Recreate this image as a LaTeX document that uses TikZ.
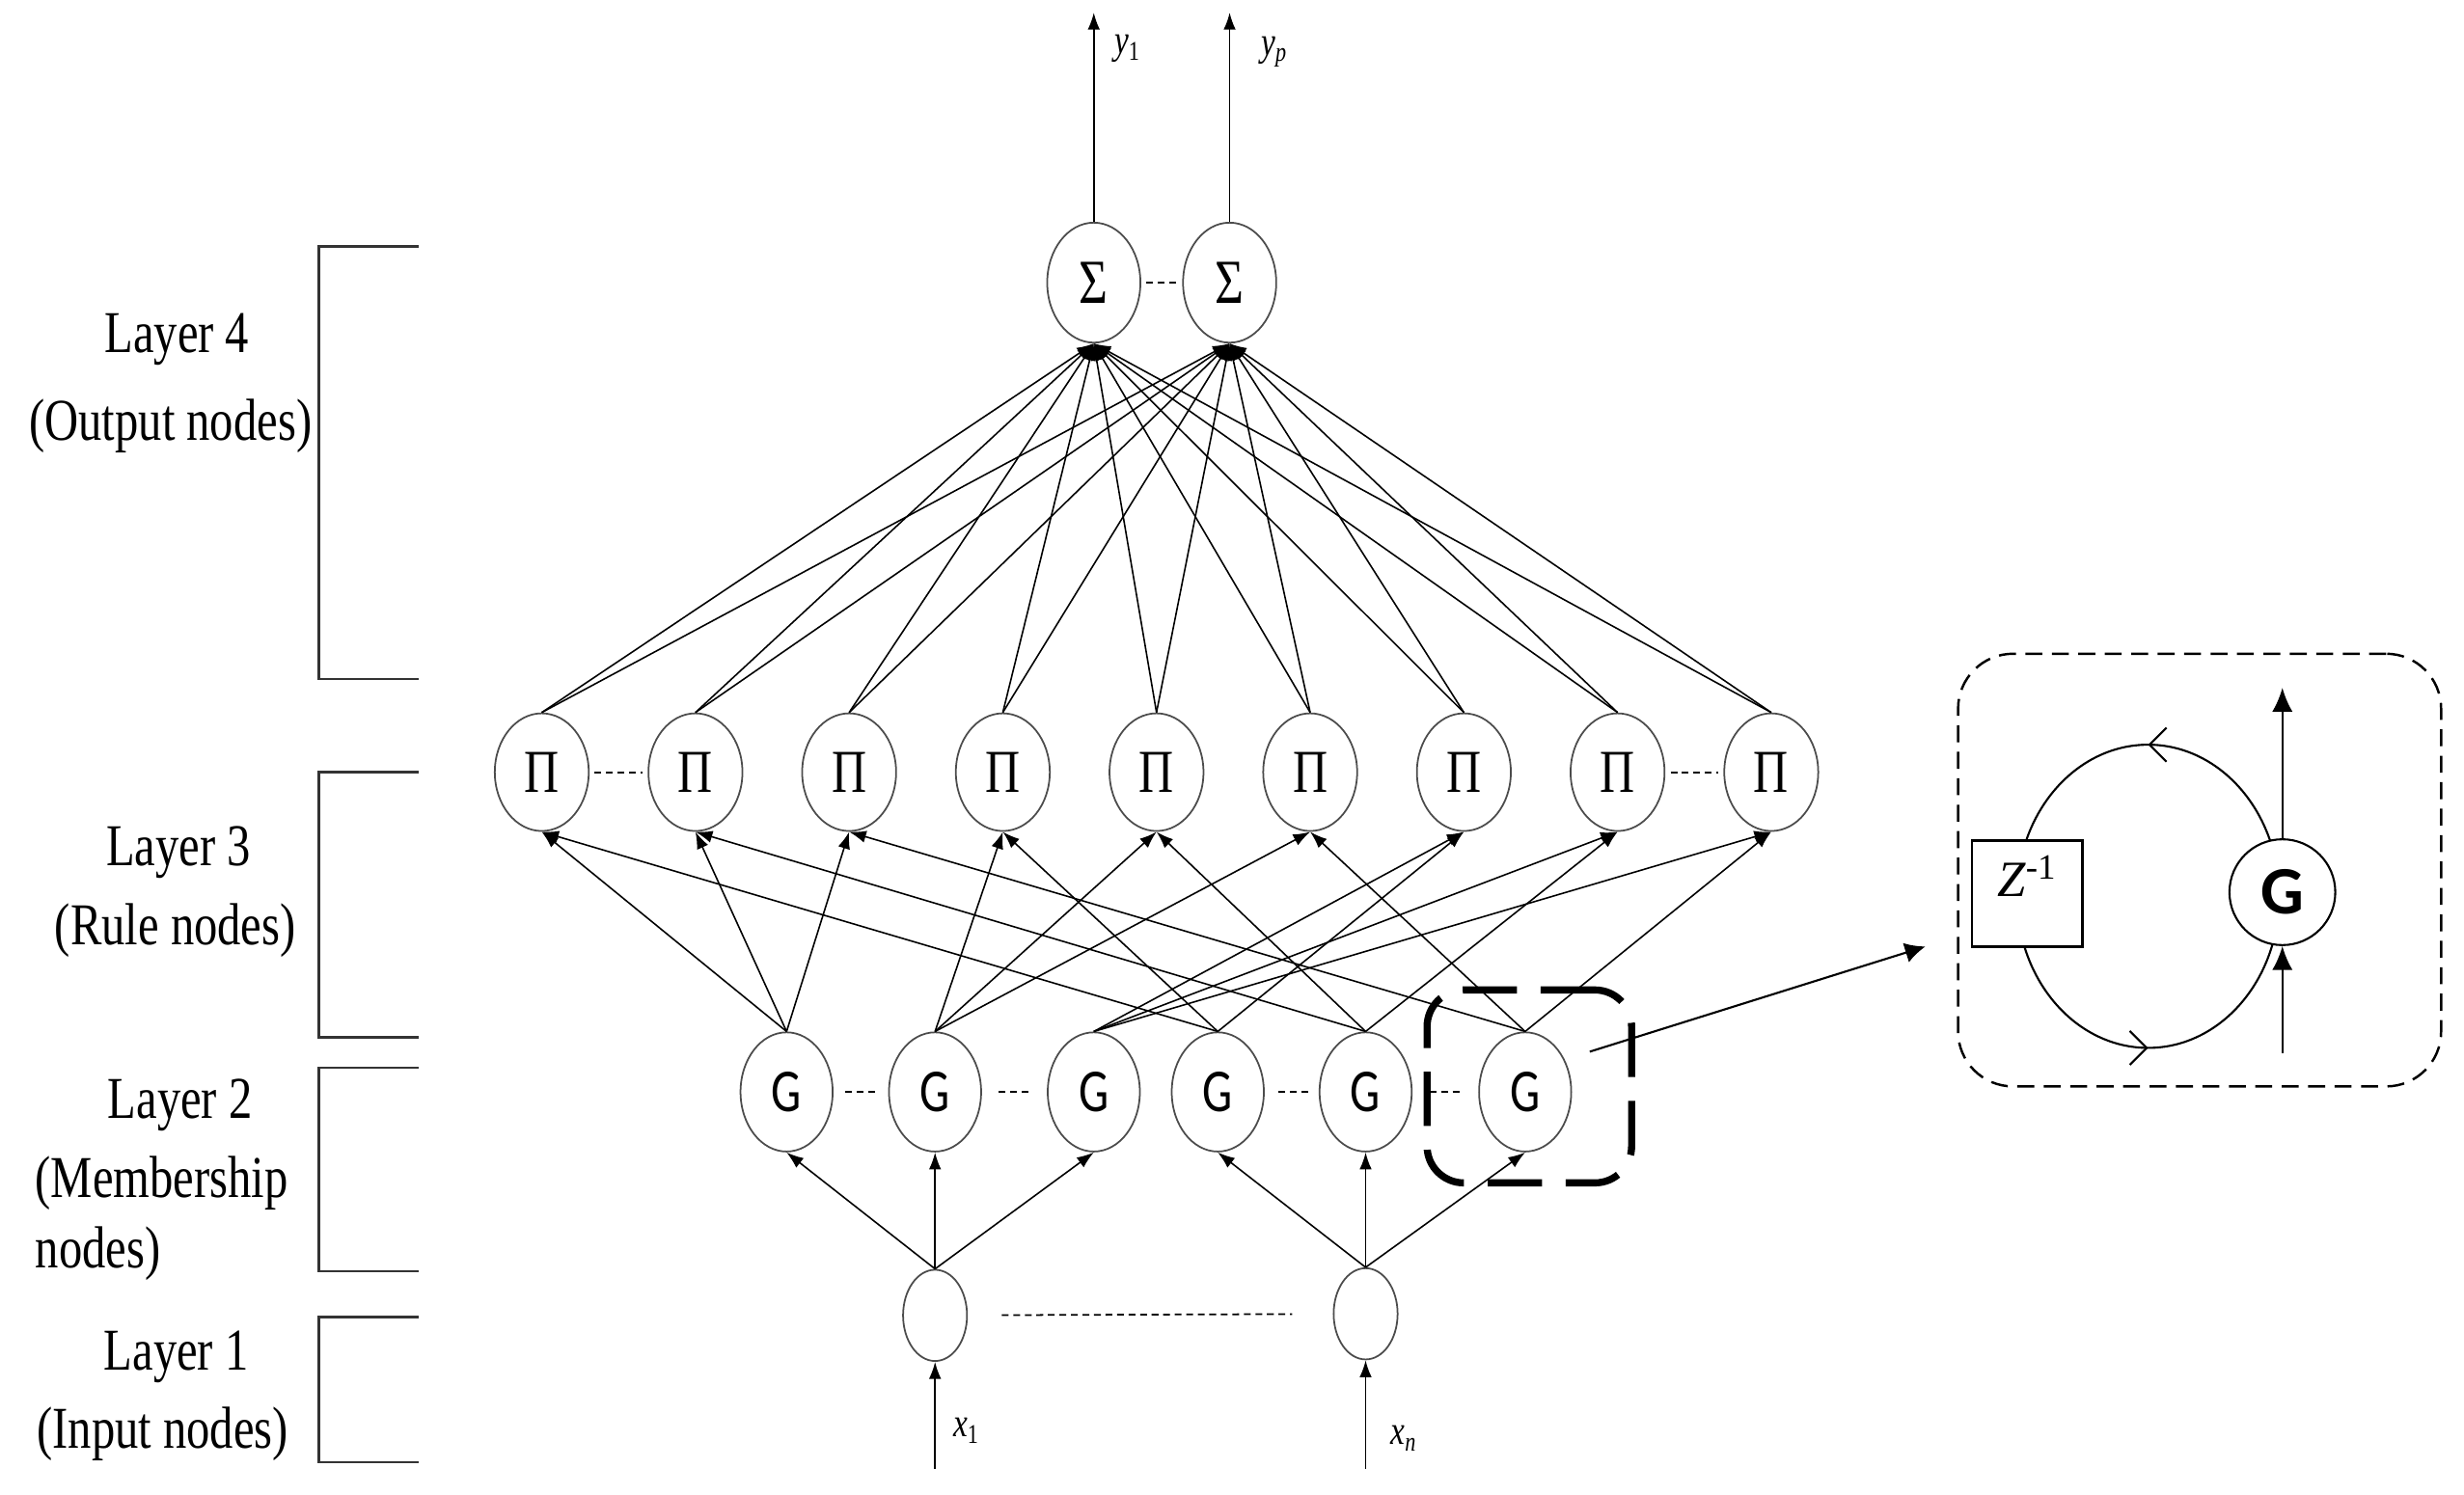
\documentclass[tikz,border=0pt]{standalone}
\usepackage{fontspec}
\setmainfont{Liberation Serif}[FakeStretch=0.79]
\newfontfamily\gfont{Carlito}[FakeStretch=0.78]
\newfontfamily\insetserif{Liberation Serif}
\newfontfamily\insetg{Carlito}
\usetikzlibrary{arrows.meta, shapes.geometric, decorations.markings}

\begin{document}
\begin{tikzpicture}[x=0.016372cm, y=-0.016372cm]
                \tikzstyle{sumnode} = [shape=ellipse, draw=black!70, line width=0.5pt, fill=white, minimum width=0.966cm, minimum height=1.244cm, inner sep=0pt, font=\fontsize{18.5}{20}\selectfont];
                \tikzstyle{rulenode} = [sumnode, minimum width=0.974cm, minimum height=1.22cm, font=\fontsize{18}{20}\selectfont];
                \tikzstyle{mfnode} = [sumnode, minimum width=0.955cm, minimum height=1.236cm, font=\gfont\fontsize{18}{20}\selectfont];
                \tikzstyle{innode} = [sumnode, minimum width=0.663cm, minimum height=0.946cm];
                \tikzstyle{layertext} = [inner sep=0pt, font=\fontsize{17.5}{20}\selectfont];
                \tikzstyle{siglabel} = [inner sep=0pt, font=\fontsize{12}{14}\selectfont];
                \tikzstyle{bracket} = [draw=black!80, line width=0.7pt];
                \tikzstyle{link} = [-{Latex[length=5pt,width=3.6pt]}, line width=0.45pt];
                \tikzstyle{dots} = [dash pattern=on 2pt off 1.4pt, line width=0.6pt];
                \tikzstyle{focusbox} = [draw, line width=2.1pt, dash pattern=on 16pt off 7pt, rounded corners=0.38cm, minimum width=2.12cm, minimum height=2cm];
                \tikzstyle{insetbox} = [draw, line width=0.7pt, dash pattern=on 5pt off 2.8pt, rounded corners=0.57cm, minimum width=5.007cm, minimum height=4.486cm];
                \tikzstyle{delaybox} = [draw, fill=white, line width=0.8pt, inner sep=0pt, minimum width=1.146cm, text height=0.58cm, text depth=0.52cm, font=\insetserif\fontsize{15}{17}\selectfont];
                \tikzstyle{gatenode} = [shape=circle, draw, fill=white, line width=0.6pt, inner sep=0pt, minimum size=1.097cm, font=\insetg\bfseries\fontsize{20}{22}\selectfont];
                \tikzstyle{biglink} = [-{Latex[length=7pt,width=6pt]}, line width=0.6pt];
                \tikzstyle{loopline} = [line width=0.6pt, postaction={decorate}, decoration={markings,
                    mark=at position 0.25 with {\arrowreversed{Straight Barb[length=5pt,width=10pt]}},
                    mark=at position 0.75 with {\arrowreversed{Straight Barb[length=5pt,width=10pt]}}}];

                \useasboundingbox (0,0) rectangle (1560,946.75);

                % layer brackets and names
                \draw[bracket] (265,156) -- (202,156) -- (202,430) -- (265,430);
                \draw[bracket] (265,489) -- (202,489) -- (202,657) -- (265,657);
                \draw[bracket] (265,676) -- (202,676) -- (202,805) -- (265,805);
                \draw[bracket] (265,834) -- (202,834) -- (202,926) -- (265,926);

                \node[layertext](L4a) at (112,215) {Layer 4};
                \node[layertext](L4b) at (108,270) {(Output nodes)};
                \node[layertext](L3a) at (113,540) {Layer 3};
                \node[layertext](L3b) at (111,589) {(Rule nodes)};
                \node[layertext](L2a) at (114,700) {Layer 2};
                \node[layertext, anchor=west](L2b) at (22,749) {(Membership};
                \node[layertext, anchor=west](L2c) at (22,794) {nodes)};
                \node[layertext](L1a) at (111.6,859) {Layer 1};
                \node[layertext](L1b) at (103,908) {(Input nodes)};

                % network
                \node[sumnode](S1) at (692.5,179) {Σ};
                \node[sumnode](S2) at (778.5,179) {Σ};

                \node[rulenode](R1) at (343,489) {Π};
                \node[rulenode](R2) at (440.3,489) {Π};
                \node[rulenode](R3) at (537.6,489) {Π};
                \node[rulenode](R4) at (634.9,489) {Π};
                \node[rulenode](R5) at (732.2,489) {Π};
                \node[rulenode](R6) at (829.5,489) {Π};
                \node[rulenode](R7) at (926.8,489) {Π};
                \node[rulenode](R8) at (1024.1,489) {Π};
                \node[rulenode](R9) at (1121.4,489) {Π};

                \node[mfnode](M1) at (498,691.5) {G};
                \node[mfnode](M2) at (592,691.5) {G};
                \node[mfnode](M3) at (692.5,691.5) {G};
                \node[mfnode](M4) at (771,691.5) {G};
                \node[mfnode](M5) at (864.6,691.5) {G};
                \node[mfnode](M6) at (965.6,691.5) {G};

                \node[innode](I1) at (592,833) {};
                \node[innode](I2) at (864.6,832) {};

                \coordinate (out1) at (692.5,8);
                \coordinate (out2) at (778.5,8);
                \coordinate (in1) at (592,930);
                \coordinate (in2) at (864.6,930);

                \node[siglabel](y1lab) at (714,31) {\textit{y}\textsubscript{1}};
                \node[siglabel](yplab) at (807,33) {\textit{y}\textsubscript{\textit{p}}};
                \node[siglabel](x1lab) at (612,906) {\textit{x}\textsubscript{1}};
                \node[siglabel](xnlab) at (889,911) {\textit{x}\textsubscript{\textit{n}}};

                \path[every edge/.append style={link}]
                    (R1.north) edge (S1.south) edge (S2.south)
                    (R2.north) edge (S1.south) edge (S2.south)
                    (R3.north) edge (S1.south) edge (S2.south)
                    (R4.north) edge (S1.south) edge (S2.south)
                    (R5.north) edge (S1.south) edge (S2.south)
                    (R6.north) edge (S1.south) edge (S2.south)
                    (R7.north) edge (S1.south) edge (S2.south)
                    (R8.north) edge (S1.south) edge (S2.south)
                    (R9.north) edge (S1.south) edge (S2.south)

                    (M1.north) edge (R1.south) edge (R2.south) edge (R3.south)
                    (M2.north) edge (R4.south) edge (R5.south) edge (R6.south)
                    (M3.north) edge (R7.south) edge (R8.south) edge (R9.south)
                    (M4.north) edge (R1.south) edge (R4.south) edge (R7.south)
                    (M5.north) edge (R2.south) edge (R5.south) edge (R8.south)
                    (M6.north) edge (R3.south) edge (R6.south) edge (R9.south)

                    (I1.north) edge (M1.south) edge (M2.south) edge (M3.south)
                    (I2.north) edge (M4.south) edge (M5.south) edge (M6.south)

                    (S1.north) edge (out1)
                    (S2.north) edge (out2)
                    (in1) edge (I1.south)
                    (in2) edge (I2.south)
                ;

                \draw[dots, shorten <=1.5pt, shorten >=1.5pt] (S1) -- (S2);
                \draw[dots, shorten <=1.5pt, shorten >=1.5pt] (R1) -- (R2);
                \draw[dots, shorten <=1.5pt, shorten >=1.5pt] (R8) -- (R9);
                \draw[dots, shorten <=3.5pt, shorten >=3pt] (M1) -- (M2);
                \draw[dots, shorten <=5pt, shorten >=5pt] (M2) -- (M3);
                \draw[dots, shorten <=4pt, shorten >=2pt] (M4) -- (M5);
                \draw[dots, shorten <=5pt, shorten >=5pt] (M5) -- (M6);
                \draw[dots, line width=0.5pt, shorten <=10pt, shorten >=12pt] (I1) -- (I2);

                % zoom on one membership node
                \node[focusbox](focus) at (968.25,688) {};
                \coordinate (zoomfrom) at (1006.5,666);
                \coordinate (zoomto) at (1219,599.4);
                \draw[-{Latex[length=6pt,width=6pt]}, line width=0.6pt] (zoomfrom) -- (zoomto);

                \node[insetbox](zoombox) at (1392.6,551) {};
                \draw[loopline] (1360,567.6) ellipse [x radius=83, y radius=96];
                \node[delaybox](Z) at (1283.5,566) {{\itshape Z}\textsuperscript{-1}};
                \node[gatenode](G) at (1445,565) {G};
                \coordinate (gout) at (1445,435.6);
                \coordinate (gin) at (1445,666.8);
                \draw[biglink] (G) -- (gout);
                \draw[biglink] (gin) -- (G);
            \end{tikzpicture}
\end{document}
